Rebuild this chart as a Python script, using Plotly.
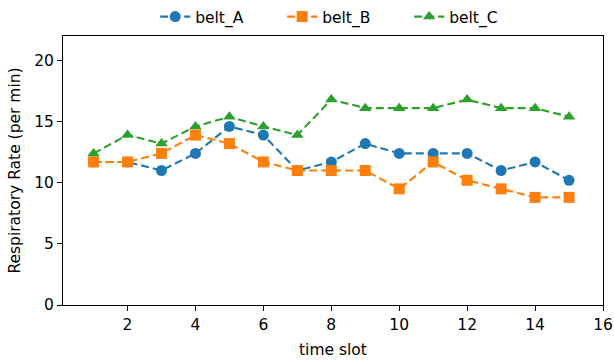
import plotly.graph_objects as go

time_slot = list(range(1, 16))
belt_A = [11.7, 11.7, 11.0, 12.4, 14.6, 13.9, 11.0, 11.7, 13.2, 12.4, 12.4, 12.4, 11.0, 11.7, 10.2]
belt_B = [11.7, 11.7, 12.4, 13.9, 13.2, 11.7, 11.0, 11.0, 11.0, 9.5, 11.7, 10.2, 9.5, 8.8, 8.8]
belt_C = [12.4, 13.9, 13.2, 14.6, 15.4, 14.6, 13.9, 16.8, 16.1, 16.1, 16.1, 16.8, 16.1, 16.1, 15.4]
series_names = ["belt_A", "belt_B", "belt_C"]
colors = ["#1f77b4", "#ff7f0e", "#2ca02c"]
symbols = ["circle", "square", "triangle-up"]

FS = 15.5

fig = go.Figure()
for name, vals, c, s in zip(series_names, [belt_A, belt_B, belt_C], colors, symbols):
    fig.add_trace(go.Scatter(
        x=time_slot, y=vals, name=name, mode="lines+markers",
        line=dict(color=c, width=2.1, dash="8px,4px"),
        marker=dict(color=c, symbol=s, size=11),
    ))

axis_common = dict(
    showline=True, linecolor="black", linewidth=1, mirror=True,
    ticks="outside", ticklen=5, tickcolor="black", showgrid=False, zeroline=False,
    tickfont=dict(family="DejaVu Sans", size=FS, color="black"),
    ticklabeloverflow="allow",
)
fig.update_layout(
    width=614, height=360,
    margin=dict(l=63, r=1, t=36, b=55),
    paper_bgcolor="white", plot_bgcolor="white",
    font=dict(family="DejaVu Sans", size=FS, color="black"),
    legend=dict(orientation="h", xref="container", yref="container",
                x=0.563, xanchor="center", y=1.0, yanchor="top",
                font=dict(size=FS), entrywidth=82, itemwidth=30),
    showlegend=True,
)
fig.update_xaxes(range=[0.1, 16], tickvals=[2, 4, 6, 8, 10, 12, 14, 16],
                 title=dict(text="time slot", font=dict(size=FS), standoff=11), **axis_common)
fig.update_yaxes(range=[0, 22], tickvals=[0, 5, 10, 15, 20],
                 title=dict(text="Respiratory Rate (per min)", font=dict(size=FS), standoff=9), **axis_common)

fig.write_html("out.html")
